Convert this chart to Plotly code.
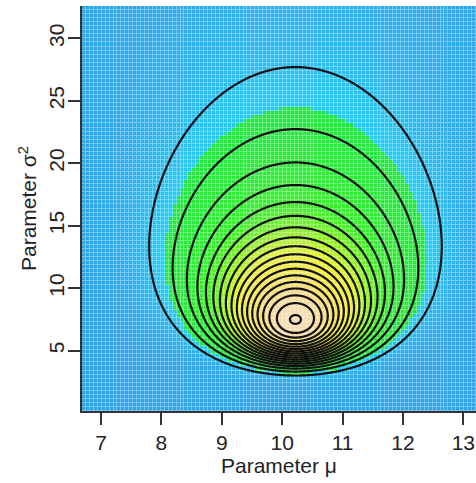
import numpy as np
import plotly.graph_objects as go

# ---- data / model parameters ----
n_obs = 10            # sample size
mu_hat = 10.22        # sample mean (MLE of mu)
sigma2_hat = 7.48     # MLE of sigma^2
level_step = 1 / 18.1 # contour spacing, relative to the maximum likelihood
n_levels = 18

mu_range = [6.685, 13.21]
sigma2_range = [0.16, 32.59]

x_ticks = [7, 8, 9, 10, 11, 12, 13]
y_ticks = [5, 10, 15, 20, 25, 30]

# colour stops over relative likelihood
color_stops = [
    (0.000, "#2ca4e6"),
    (0.030, "#2cb0ee"),
    (0.060, "#26c2f2"),
    (0.086, "#22ccf4"),
    (0.087, "#22e640"),
    (0.280, "#3aee2c"),
    (0.420, "#96f028"),
    (0.530, "#e0f030"),
    (0.620, "#f4ec38"),
    (0.780, "#f6e060"),
    (0.870, "#f6d890"),
    (1.000, "#f8dcb4"),
]


def rel_lik(mu, s2):
    ll = -n_obs / 2 * np.log(s2) - n_obs * (sigma2_hat + (mu_hat - mu) ** 2) / (2 * s2)
    llmax = -n_obs / 2 * np.log(sigma2_hat) - n_obs / 2
    return np.exp(ll - llmax)


def blend(hexc, f):
    r, g, b = int(hexc[1:3], 16), int(hexc[3:5], 16), int(hexc[5:7], 16)
    r = round(r + (255 - r) * f); g = round(g + (255 - g) * f); b = round(b + (255 - b) * f)
    return f"rgb({r},{g},{b})"


cs_main = [[p, c] for p, c in color_stops]
cs_light = [[p, blend(c, 0.35)] for p, c in color_stops]

# coarse grid for the image
nx, ny = 100, 100
mu_c = mu_range[0] + (np.arange(nx) + 0.5) * (mu_range[1] - mu_range[0]) / nx
s2_c = sigma2_range[0] + (np.arange(ny) + 0.5) * (sigma2_range[1] - sigma2_range[0]) / ny
M, S = np.meshgrid(mu_c, s2_c)
Z = rel_lik(M, S)

# fine grid for the contour lines
mu_f = np.linspace(mu_range[0], mu_range[1], 500)
s2_f = np.linspace(sigma2_range[0], sigma2_range[1], 1400)
Mf, Sf = np.meshgrid(mu_f, s2_f)
Zf = rel_lik(Mf, Sf)

fig = go.Figure()
fig.add_trace(go.Heatmap(x=mu_c, y=s2_c, z=Z, colorscale=cs_light, zmin=0, zmax=1,
                         showscale=False, hoverinfo="skip"))
fig.add_trace(go.Heatmap(x=mu_c, y=s2_c, z=Z, colorscale=cs_main, zmin=0, zmax=1,
                         xgap=1, ygap=1, showscale=False, hoverinfo="skip"))
fig.add_trace(go.Contour(x=mu_f, y=s2_f, z=Zf, showscale=False, hoverinfo="skip",
                         contours=dict(coloring="none", start=level_step,
                                       end=level_step * n_levels + 1e-9, size=level_step),
                         line=dict(color="#111111", width=2.2)))

font = dict(family="Liberation Sans, Arial, sans-serif", size=21, color="#222222")
fig.update_layout(
    width=476, height=483,
    margin=dict(l=82, r=0, t=6, b=72),
    paper_bgcolor="white", plot_bgcolor="white",
    showlegend=False,
    font=font,
    xaxis=dict(range=mu_range, tickvals=x_ticks, ticks="outside", ticklen=12, tickwidth=1.5,
               tickcolor="#333", showline=True, linecolor="#333", linewidth=1.5,
               showgrid=False, zeroline=False, tickfont=font,
               title=dict(text="Parameter μ", font=font, standoff=4)),
    yaxis=dict(range=sigma2_range, tickvals=y_ticks, ticks="outside", ticklen=12, tickwidth=1.5,
               tickcolor="#333", showline=True, linecolor="#333", linewidth=1.5,
               showgrid=False, zeroline=False, tickangle=-90, tickfont=font,
               ticklabelstandoff=-4,
               title=dict(text="Parameter σ<sup>2</sup>", font=font, standoff=2)),
)

fig.write_html("out.html")
